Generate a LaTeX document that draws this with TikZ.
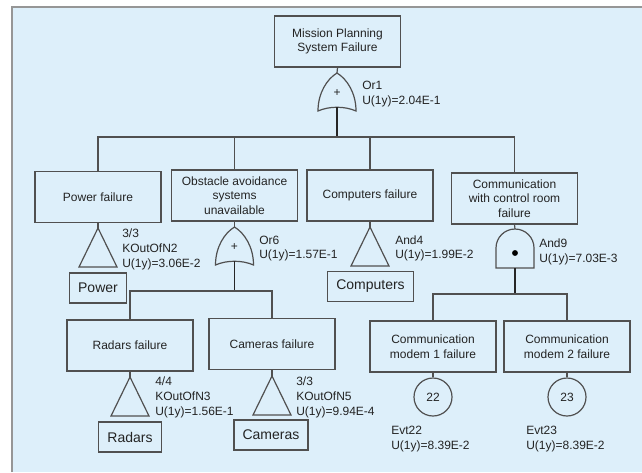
\documentclass[tikz,border=0pt]{standalone}
\usepackage{fontspec}
\setmainfont{Liberation Sans}
\usepackage{tikz}
\usepackage{xcolor}
\usetikzlibrary{positioning,calc}

\definecolor{bgc}{RGB}{221,239,250}
\definecolor{framec}{RGB}{150,150,150}
\definecolor{linec}{RGB}{80,80,80}
\definecolor{textc}{RGB}{35,35,35}

\begin{document}
\begin{tikzpicture}[
    x=0.75pt, y=-0.75pt,
    box/.style={rectangle, draw=linec, line width=0.9pt, minimum width=94.5pt, minimum height=38.25pt, inner sep=0pt, align=center, text=textc, font=\fontsize{9}{11}\selectfont},
    xbox/.style={rectangle, draw=linec, line width=0.9pt, minimum height=22.5pt, inner xsep=6.5pt, inner ysep=0pt, text=textc, font=\fontsize{10.5}{12}\selectfont},
    lbl/.style={anchor=west, align=left, inner sep=0pt, text=textc, font=\fontsize{9}{11}\selectfont},
    conn/.style={draw=linec, line width=0.9pt},
    gateout/.style={draw=black!85, line width=1.2pt},
    orgate/.pic={
        \draw[conn] (-19,38) .. controls (-19,20) and (-10,6) .. (0,0)
            .. controls (10,6) and (19,20) .. (19,38)
            .. controls (8,33) and (-8,33) .. (-19,38) -- cycle;
        \node[text=textc, font=\fontsize{9}{9}\selectfont, inner sep=0pt] at (0,20) {+};
        \coordinate (-top) at (0,0);
        \coordinate (-bot) at (0,34);
    },
    andgate/.pic={
        \draw[conn] (-19,39) -- (-19,19) .. controls (-19,8.5) and (-10.5,0) .. (0,0)
            .. controls (10.5,0) and (19,8.5) .. (19,19) -- (19,39) -- cycle;
        \fill[black] (0,24) circle (2.2pt);
        \coordinate (-top) at (0,0);
        \coordinate (-bot) at (0,39);
    },
    kgate/.pic={
        \draw[conn] (0,0) -- (19,39) -- (-19,39) -- cycle;
        \coordinate (-top) at (0,0);
    }
]
    \useasboundingbox (0,0) rectangle (642,472);
    \fill[bgc] (12,7) rectangle (642,472);
    \draw[framec, line width=1.5pt] (12,472) -- (12,7) -- (642,7);

    % top event
    \node[box] (mps) at (337.5,41.5) {Mission Planning\\System Failure};
    \pic (or1) at (337,73) {orgate};
    \node[lbl] (or1l) at (362,94) {Or1\\U(1y)=2.04E-1};
    \coordinate (bus1) at (337,137);

    % second level
    \node[box] (pwr) at (98,197) {Power failure};
    \node[box] (obs) at (234.5,195.5) {Obstacle avoidance\\systems\\unavailable};
    \node[box] (cmp) at (370,195.5) {Computers failure};
    \node[box] (com) at (514.5,198.5) {Communication\\with control room\\failure};

    % power
    \pic (k2) at (98,228) {kgate};
    \node[lbl] (k2l) at (122,249.5) {3/3\\KOutOfN2\\U(1y)=3.06E-2};
    \node[xbox] (pwrx) at (98,288) {Power};

    % obstacle avoidance
    \pic (or6) at (234.5,227) {orgate};
    \node[lbl] (or6l) at (259,248.5) {Or6\\U(1y)=1.57E-1};
    \coordinate (bus6) at (234.5,291);
    \node[box] (rad) at (130,345.5) {Radars failure};
    \node[box] (cam) at (272,344) {Cameras failure};
    \pic (k3) at (130,377) {kgate};
    \node[lbl] (k3l) at (155,397.5) {4/4\\KOutOfN3\\U(1y)=1.56E-1};
    \node[xbox] (radx) at (130,437) {Radars};
    \pic (k5) at (272,376) {kgate};
    \node[lbl] (k5l) at (296,397.5) {3/3\\KOutOfN5\\U(1y)=9.94E-4};
    \node[xbox] (camx) at (271,435) {Cameras};

    % computers
    \pic (and4) at (370,227) {kgate};
    \node[lbl] (and4l) at (395,248.5) {And4\\U(1y)=1.99E-2};
    \node[xbox] (cmpx) at (370.5,286.5) {Computers};

    % communication
    \pic (and9) at (515,229) {andgate};
    \node[lbl] (and9l) at (539,252) {And9\\U(1y)=7.03E-3};
    \coordinate (bus9) at (515,294);
    \node[box] (m1) at (433,346.5) {Communication\\modem 1 failure};
    \node[box] (m2) at (567,346.5) {Communication\\modem 2 failure};
    \node[circle, draw=linec, line width=0.9pt, minimum size=28.5pt, inner sep=0pt, text=textc, font=\fontsize{9}{11}\selectfont] (e22) at (433,397) {22};
    \node[circle, draw=linec, line width=0.9pt, minimum size=28.5pt, inner sep=0pt, text=textc, font=\fontsize{9}{11}\selectfont] (e23) at (567,397) {23};
    \node[lbl] (e22l) at (391,439) {Evt22\\U(1y)=8.39E-2};
    \node[lbl] (e23l) at (526,439) {Evt23\\U(1y)=8.39E-2};

    % connectors
    \draw[conn] (mps.south) -- (or1-top);
    \draw[gateout] (or1-bot) -- (bus1);
    \draw[conn] (bus1) -| (pwr.north);
    \draw[conn] (bus1) -| (obs.north);
    \draw[conn] (bus1) -| (cmp.north);
    \draw[conn] (bus1) -| (com.north);

    \draw[conn] (pwr.south) -- (k2-top);
    \draw[conn] (obs.south) -- (or6-top);
    \draw[gateout] (or6-bot) -- (bus6);
    \draw[conn] (bus6) -| (rad.north);
    \draw[conn] (bus6) -| (cam.north);
    \draw[conn] (rad.south) -- (k3-top);
    \draw[conn] (cam.south) -- (k5-top);

    \draw[conn] (cmp.south) -- (and4-top);
    \draw[conn] (com.south) -- (and9-top);
    \draw[gateout] (and9-bot) -- (bus9);
    \draw[conn] (bus9) -| (m1.north);
    \draw[conn] (bus9) -| (m2.north);
    \draw[conn] (m1.south) -- (e22.north);
    \draw[conn] (m2.south) -- (e23.north);
\end{tikzpicture}
\end{document}
